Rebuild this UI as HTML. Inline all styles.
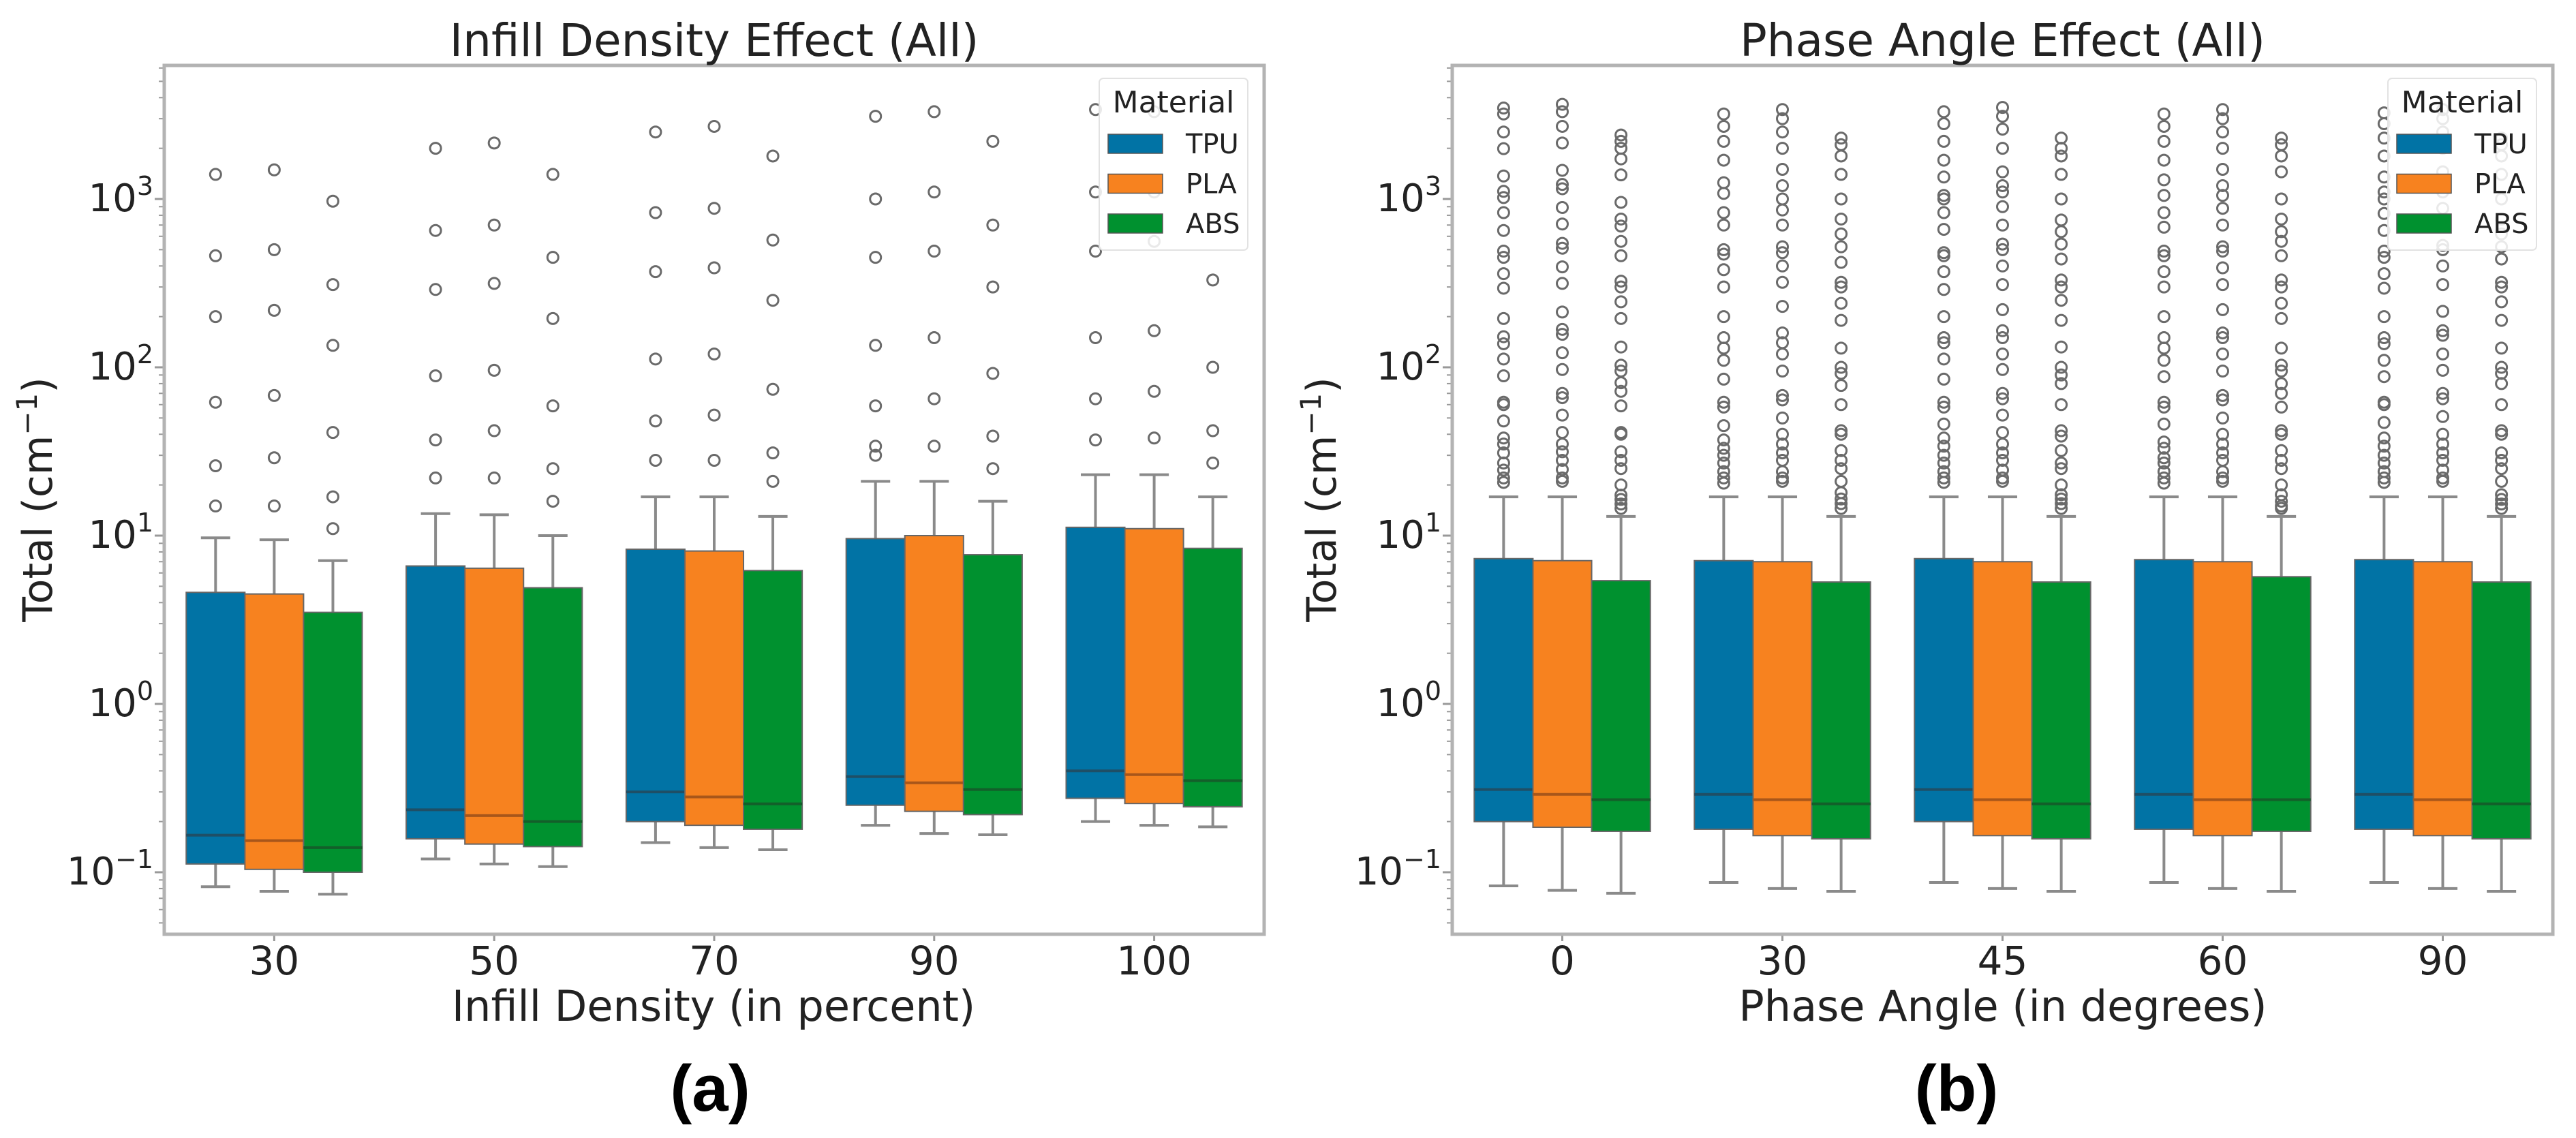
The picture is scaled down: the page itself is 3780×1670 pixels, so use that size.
<!DOCTYPE html>
<html><head><meta charset="utf-8">
<style>
html,body{margin:0;padding:0;background:#fff;}
svg{display:block;}
text{font-family:"DejaVu Sans","Liberation Sans",sans-serif;fill:#222;}
.bold{font-family:"Liberation Sans",sans-serif;font-weight:bold;fill:#000;}
</style></head>
<body>
<svg id="fig" width="3780" height="1670" viewBox="0 0 3780 1670" xmlns="http://www.w3.org/2000/svg"></svg>
<script>
// ---------- DATA ----------
const materials = ["TPU","PLA","ABS"];
const infillCategories = ["30","50","70","90","100"];
const phaseCategories = ["0","30","45","60","90"];
const yTickValues = [0.1,1,10,100,1000];
const yTickExp = ["\u22121","0","1","2","3"];

// Infill stats: [lowerWhisker, Q1, median, Q3, upperWhisker] per category per material
const infillTPU = [[0.082,0.112,0.166,4.6,9.7],[0.12,0.158,0.235,6.6,13.5],[0.15,0.2,0.30,8.3,17],[0.19,0.25,0.37,9.6,21],[0.2,0.275,0.40,11.2,23]];
const infillPLA = [[0.077,0.104,0.154,4.5,9.45],[0.112,0.147,0.217,6.4,13.3],[0.14,0.19,0.28,8.1,17],[0.17,0.23,0.34,10,21],[0.19,0.256,0.38,11,23]];
const infillABS = [[0.074,0.10,0.14,3.5,7.1],[0.108,0.142,0.20,4.9,10],[0.136,0.18,0.255,6.2,13],[0.167,0.22,0.31,7.7,16],[0.186,0.245,0.35,8.4,17]];
const infillOutTPU = [[1400,460,200,62,26,15],[2000,650,290,89,37,22],[2500,830,370,112,48,28],[3100,1000,450,135,59,34,30],[3400,1100,490,150,65,37]];
const infillOutPLA = [[1490,500,218,68,29,15],[2150,700,315,96,42,22],[2700,880,390,120,52,28],[3300,1100,490,150,65,34],[3300,1100,560,165,72,38]];
const infillOutABS = [[970,310,135,41,17,11],[1400,450,195,59,25,16],[1800,570,250,74,31,21],[2200,700,300,92,39,25],[330,100,42,27]];

const phaseTPU = [[0.083,0.2,0.31,7.3,17],[0.087,0.18,0.29,7.1,17],[0.087,0.2,0.31,7.3,17],[0.087,0.18,0.29,7.2,17],[0.087,0.18,0.29,7.2,17]];
const phasePLA = [[0.078,0.185,0.29,7.1,17],[0.08,0.165,0.27,7.0,17],[0.08,0.165,0.27,7.0,17],[0.08,0.165,0.27,7.0,17],[0.08,0.165,0.27,7.0,17]];
const phaseABS = [[0.075,0.175,0.27,5.4,13],[0.077,0.158,0.255,5.3,13],[0.077,0.158,0.255,5.3,13],[0.077,0.175,0.27,5.7,13],[0.077,0.158,0.255,5.3,13]];
const phaseOutTPU = [
 [3470,3200,2500,1990,1370,1110,1020,830,650,490,450,360,295,195,152,138,112,89,62,60,48,38,35,31,27,24.5,22,20.7],
 [3200,2700,2200,1700,1250,1080,830,700,500,470,380,300,200,150,130,110,85,62,58,45,37,33,30,27,24,22,20.5],
 [3300,2800,2200,1700,1350,1050,1000,830,660,480,460,370,290,200,150,140,112,85,62,58,46,38,34,30,27,24,22,20.7],
 [3200,2700,2200,1700,1300,1050,830,680,490,460,370,300,200,150,130,110,88,62,58,46,36,33,29,27,24,22,20.5],
 [3250,2800,2300,1800,1350,1100,1000,820,650,490,450,360,295,200,150,138,110,88,62,60,47,38,34,30,27,24,22,20.7]];
const phaseOutPLA = [
 [3650,3300,2700,2150,1480,1220,1150,890,710,545,510,395,315,213,168,157,122,97,70,66,52,41,35,31.5,28,24.7,22,21],
 [3400,3000,2500,2000,1500,1200,1000,860,700,520,480,400,320,230,160,140,120,95,68,64,50,40,35,31,28,24,22,21],
 [3500,3100,2600,2000,1450,1200,1100,900,700,540,500,400,310,220,165,150,120,97,70,65,52,41,35,31,28,24.5,22,21],
 [3400,3000,2500,2000,1500,1200,1050,880,700,520,490,390,310,220,160,150,120,95,68,64,50,40,35,31,28,24,22,21],
 [3400,3000,2500,2000,1450,1200,1100,880,700,530,500,400,310,215,165,155,120,96,70,65,51,40,35,31,28,24.5,22,21]];
const phaseOutABS = [
 [2400,2200,2000,1730,1390,955,760,690,560,460,325,300,245,195,132,103,95,81,72,59,41,40,31.5,28,25,20,17.4,16.4,15.4,14.5],
 [2300,2100,1800,1400,1000,760,620,520,420,320,300,240,190,130,100,92,78,60,42,40,32,28,25,21,18,16.5,15.5,14.5],
 [2300,2000,1800,1400,1000,750,640,540,440,330,300,250,190,132,100,90,80,60,42,39,32,27,25,20,17.5,16.5,15.5,14.5],
 [2300,2100,1800,1450,1000,760,640,560,460,330,300,240,195,130,103,95,80,70,58,42,40,32,28,25,20,17.5,16,15,14.5],
 [2300,2100,1800,1400,1000,760,620,520,440,320,300,245,190,130,100,92,80,60,42,40,31,28,25,21,17.5,16.4,15.4,14.5]];

// ---------- DRAW ----------
const NS="http://www.w3.org/2000/svg";
const svg=document.getElementById('fig');
const colors={TPU:"#0173a5",PLA:"#f7821f",ABS:"#00912f"};
const medColors={TPU:"#1f4f66",PLA:"#a8561a",ABS:"#135f2a"};
function mk(tag,attrs,parent){const e=document.createElementNS(NS,tag);for(const k in attrs)e.setAttribute(k,attrs[k]);(parent||svg).appendChild(e);return e;}

function panel(opt){
  const g=mk('g',{});
  
  
  const L=opt.left,R=opt.right,T=96,B=1371;
  const yScale=v=>1033-247*Math.log10(v);
  const band=(R-L)/opt.cats.length;
  const xCenter=i=>L+band*(i+0.5);
  const bw=band*0.8/3;
  // minor ticks
  for(let d=-2;d<=3;d++){for(let m=1;m<10;m++){const v=m*Math.pow(10,d);const y=yScale(v);if(y<T||y>B)continue;
    const t=mk('line',{x1:L-(m==1?14:8),x2:L,y1:y,y2:y,stroke:'#999','stroke-width':m==1?3:2},g);
    
    }}
  // y tick labels
  yTickValues.forEach((v,i)=>{
    const t=mk('text',{x:L-16,y:yScale(v)+18,'text-anchor':'end','font-size':56},g);
    
    
    t.appendChild(document.createTextNode('10'));
    const s=mk('tspan',{dy:-24,'font-size':38},t);s.textContent=yTickExp[i];
  });
  // x ticks/labels
  opt.cats.forEach((c,i)=>{
    const x=xCenter(i);
    const tk=mk('line',{x1:x,x2:x,y1:B,y2:B+10,stroke:'#999','stroke-width':3},g);
    
    
    const t=mk('text',{x:x,y:1430,'text-anchor':'middle','font-size':58},g);
    
    
    t.textContent=c;
  });
  // boxes
  materials.forEach((m,j)=>{
    const stats=opt.stats[j],outs=opt.outs[j];
    opt.cats.forEach((c,i)=>{
      const cx=xCenter(i)+(j-1)*bw;
      const s=stats[i];
      const bg=mk('g',{},g);
      
      
      const w1=mk('line',{x1:cx,x2:cx,y1:yScale(s[0]),y2:yScale(s[1]),stroke:'#8a8a8a','stroke-width':4},bg);
      
      
      const w2=mk('line',{x1:cx,x2:cx,y1:yScale(s[3]),y2:yScale(s[4]),stroke:'#8a8a8a','stroke-width':4},bg);
      
      
      [s[0],s[4]].forEach(v=>{const cap=mk('line',{x1:cx-bw/4,x2:cx+bw/4,y1:yScale(v),y2:yScale(v),stroke:'#8a8a8a','stroke-width':4},bg);
        
        });
      const r=mk('rect',{x:cx-bw/2,y:yScale(s[3]),width:bw,height:yScale(s[1])-yScale(s[3]),fill:colors[m],stroke:'#666','stroke-width':2},bg);
      
      
      const md=mk('line',{x1:cx-bw/2,x2:cx+bw/2,y1:yScale(s[2]),y2:yScale(s[2]),stroke:medColors[m],'stroke-width':4},bg);
      
      
      outs[i].forEach(v=>{const o=mk('circle',{cx:cx,cy:yScale(v),r:8,fill:'none',stroke:'#6a6a6a','stroke-width':3},bg);
        
        });
    });
  });
  // frame
  const fr=mk('rect',{x:L,y:T,width:R-L,height:B-T,fill:'none',stroke:'#b3b3b3','stroke-width':5},g);
  
  
  // legend
  const lg=mk('g',{},g);
  
  
  const lx=R-242;
  mk('rect',{x:lx,y:115,width:218,height:252,rx:6,fill:'#fff','fill-opacity':0.85,stroke:'#e2e2e2','stroke-width':2},lg);
  const lt=mk('text',{x:lx+109,y:165,'text-anchor':'middle','font-size':44},lg);
  
  
  lt.textContent='Material';
  materials.forEach((m,j)=>{
    const cy=211+j*58.5;
    const p=mk('rect',{x:lx+13,y:cy-14,width:80,height:28,fill:colors[m],stroke:'#555','stroke-width':1.5},lg);
    
    
    const t=mk('text',{x:lx+127,y:cy+14,'font-size':40},lg);
    
    
    t.textContent=m;
  });
  // titles
  const ti=mk('text',{x:(L+R)/2,y:82,'text-anchor':'middle','font-size':66},g);
  
  
  ti.textContent=opt.title;
  const xl=mk('text',{x:opt.xlabelX,y:1498,'text-anchor':'middle','font-size':62},g);
  
  
  xl.textContent=opt.xlabel;
  const yl=mk('text',{x:0,y:0,'text-anchor':'middle','font-size':60,transform:`translate(${opt.ylabelX},733) rotate(-90)`},g);
  
  
  yl.appendChild(document.createTextNode('Total (cm'));
  const sup=mk('tspan',{dy:-22,'font-size':42},yl);sup.textContent='\u22121';
  const cl=mk('tspan',{dy:22},yl);cl.textContent=')';
  const pl=mk('text',{x:opt.tagX,y:1630,'text-anchor':'middle','font-size':96,'class':'bold'},g);
  
  
  pl.textContent=opt.tag;
}

panel({name:'infill-density-chart',left:241,right:1855,cats:infillCategories,stats:[infillTPU,infillPLA,infillABS],outs:[infillOutTPU,infillOutPLA,infillOutABS],
  title:'Infill Density Effect (All)',xlabel:'Infill Density (in percent)',xlabelX:1047,ylabelX:76,tag:'(a)',tagX:1042});
panel({name:'phase-angle-chart',left:2131,right:3746,cats:phaseCategories,stats:[phaseTPU,phasePLA,phaseABS],outs:[phaseOutTPU,phaseOutPLA,phaseOutABS],
  title:'Phase Angle Effect (All)',xlabel:'Phase Angle (in degrees)',xlabelX:2939,ylabelX:1960,tag:'(b)',tagX:2871});
</script>
</body></html>
